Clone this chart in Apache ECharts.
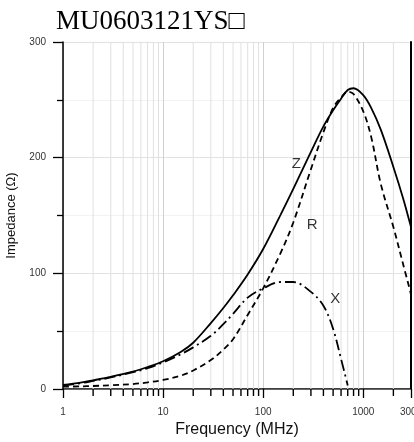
<!DOCTYPE html>
<html>
<head>
<meta charset="utf-8">
<style>
  html, body { margin: 0; padding: 0; background: #fff; }
  #chart { width: 414px; height: 442px; }
</style>
<script src="https://cdn.jsdelivr.net/npm/echarts@6/dist/echarts.min.js"></script>
</head>
<body>
<div id="chart"></div>
<script>
// frequency points (MHz) the curves were read at
const freq = [1, 1.5, 2, 3, 5, 7, 10, 15, 20, 30, 40, 50, 70, 100, 150, 200, 300, 400, 500, 600, 700, 800, 1000, 1200, 1500, 2000, 2500, 3000];
// impedance values (Ohm)
const zVals = [3.5, 5.5, 7.5, 10.5, 15, 19, 24, 32, 40, 57, 70, 81, 99, 121, 151, 173, 205, 227, 241, 251, 258.5, 260, 254, 243, 224, 192, 165, 140];
const rVals = [2, 2.3, 2.6, 3.3, 4.3, 5.7, 7.8, 11.5, 16, 25, 34, 43, 64, 87, 118, 144, 190, 222, 243, 252, 257, 255, 240, 218, 177, 140, 108, 82];
// reactance stops where it crosses zero
const xFreq = [1, 1.5, 2, 3, 5, 7, 10, 15, 20, 30, 40, 50, 70, 100, 150, 200, 300, 400, 500, 600, 700];
const xVals = [3, 5, 7, 10, 14.5, 18, 23, 30, 36, 46, 56, 65, 79, 87, 92.5, 92.5, 84, 72, 52, 26, 3];
// minor decade positions for ticks and light grid lines
const minorTicks = [2, 3, 4, 5, 6, 7, 8, 9, 20, 30, 40, 50, 60, 70, 80, 90, 200, 300, 400, 500, 600, 700, 800, 900, 2000];
// where the curve letters sit, in data coordinates
const curveLabels = [
  { name: 'Z', value: [214, 195] },
  { name: 'R', value: [309, 142] },
  { name: 'X', value: [525, 78] }
];

const chart = echarts.init(document.getElementById('chart'));

function pairs(xs, ys) {
  return xs.map((x, i) => [x, ys[i]]);
}

function curve(name, data, dash) {
  return {
    type: 'line',
    name: name,
    z: 3,
    smooth: 0.35,
    showSymbol: false,
    silent: true,
    lineStyle: { color: '#000', width: 1.8, type: dash },
    data: data
  };
}

const option = {
  animation: false,
  title: {
    text: 'MU0603121YS\u25A1',
    left: 51,
    top: 3,
    textStyle: {
      fontFamily: 'Liberation Serif',
      fontSize: 27,
      fontWeight: 'normal',
      color: '#000'
    }
  },
  grid: { left: 63, right: 3, top: 42, bottom: 53, outerBoundsMode: 'none' },
  xAxis: [{
    type: 'log',
    logBase: 10,
    min: 1,
    max: 3000,
    name: 'Frequency (MHz)',
    nameLocation: 'middle',
    nameGap: 31,
    nameTextStyle: { fontFamily: 'Liberation Sans', fontSize: 16, color: '#111' },
    axisLine: { lineStyle: { color: '#000', width: 1.5 } },
    axisTick: { show: true, length: 9, lineStyle: { color: '#000', width: 1.3 } },
    axisLabel: {
      fontFamily: 'Liberation Sans', fontSize: 10, color: '#333', margin: 18,
      showMaxLabel: true,
      formatter: v => String(Math.round(v))
    },
    splitLine: { show: true, lineStyle: { color: '#d0d0d0', width: 1 } }
  }, {
    type: 'log',
    logBase: 10,
    min: 1,
    max: 3000,
    position: 'top',
    axisLine: { show: true, lineStyle: { color: '#666', width: 1 } },
    axisTick: { show: false },
    axisLabel: { show: false },
    splitLine: { show: false }
  }],
  yAxis: [{
    type: 'value',
    min: 0,
    max: 300,
    interval: 100,
    name: 'Impedance (\u03A9)',
    nameLocation: 'middle',
    nameGap: 38,
    nameTextStyle: { fontFamily: 'Liberation Sans', fontSize: 13, color: '#111' },
    axisLine: { show: true, lineStyle: { color: '#000', width: 1.5 } },
    axisTick: { show: true, length: 10, lineStyle: { color: '#000', width: 1.3 } },
    minorTick: { show: true, splitNumber: 2, length: 6, lineStyle: { color: '#000', width: 1.3 } },
    axisLabel: { fontFamily: 'Liberation Sans', fontSize: 10, color: '#333', margin: 17 },
    splitLine: { show: true, lineStyle: { color: '#e2e2e2', width: 1 } },
    minorSplitLine: { show: true, lineStyle: { color: '#f2f2f2', width: 1 } }
  }, {
    type: 'value',
    min: 0,
    max: 300,
    position: 'right',
    axisLine: { show: true, lineStyle: { color: '#000', width: 2 } },
    axisTick: { show: false },
    axisLabel: { show: false },
    splitLine: { show: false }
  }],
  series: [{
    type: 'custom',
    name: 'minor',
    silent: true,
    z: 1,
    clip: false,
    data: minorTicks.map(v => [v, 0]),
    renderItem: function (params, api) {
      const base = api.coord([api.value(0), 0]);
      const top = api.coord([api.value(0), 300]);
      return {
        type: 'group',
        children: [{
          type: 'line',
          shape: { x1: base[0], y1: top[1], x2: base[0], y2: base[1] },
          style: { stroke: '#e0e0e0', lineWidth: 1 }
        }, {
          type: 'line',
          z2: 10,
          shape: { x1: base[0], y1: base[1], x2: base[0], y2: base[1] + 7 },
          style: { stroke: '#000', lineWidth: 1.4 }
        }]
      };
    }
  },
  curve('Z', pairs(freq, zVals), 'solid'),
  curve('R', pairs(freq, rVals), [6, 4]),
  curve('X', pairs(xFreq, xVals), [11, 4, 2, 4]),
  {
    type: 'scatter',
    name: 'letters',
    z: 4,
    silent: true,
    symbolSize: 1,
    itemStyle: { color: 'rgba(0,0,0,0)' },
    label: {
      show: true,
      position: 'inside',
      formatter: p => p.name,
      color: '#000',
      fontSize: 15,
      fontFamily: 'Liberation Sans'
    },
    data: curveLabels
  }]
};

chart.setOption(option);
</script>
</body>
</html>
